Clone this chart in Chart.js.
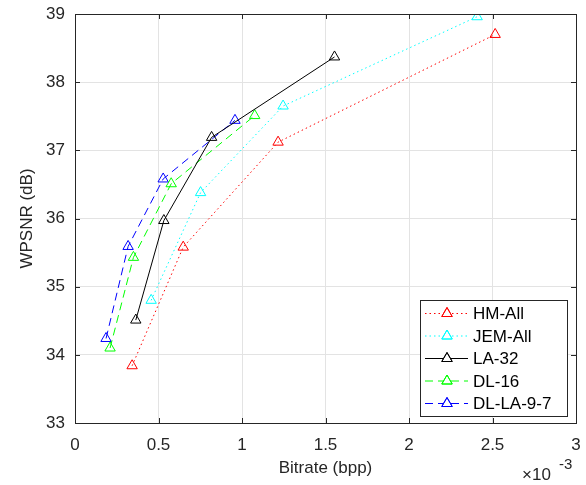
<!DOCTYPE html>
<html>
<head>
<meta charset="utf-8">
<script src="https://cdn.jsdelivr.net/npm/chart.js@4.4.0/dist/chart.umd.min.js"></script>
<style>
  html, body { margin: 0; padding: 0; background: #fff; }
  #wrap { width: 586px; height: 485px; }
</style>
</head>
<body>
<div id="wrap"><canvas id="chart" width="586" height="485"></canvas></div>
<script>
// bitrate in units of 1e-3 bpp, WPSNR in dB
const hmX = [0.342, 0.648, 1.216, 2.516];
const hmY = [33.84, 35.58, 37.12, 38.70];
const jemX = [0.456, 0.752, 1.246, 2.408];
const jemY = [34.80, 36.38, 37.65, 38.96];
const laX = [0.364, 0.532, 0.818, 1.554];
const laY = [34.51, 35.97, 37.19, 38.37];
const dlX = [0.210, 0.350, 0.576, 1.076];
const dlY = [34.10, 35.43, 36.51, 37.51];
const dllaX = [0.186, 0.318, 0.528, 0.958];
const dllaY = [34.24, 35.59, 36.58, 37.44];

const xTicks = [0, 0.5, 1, 1.5, 2, 2.5, 3];
const yTicks = [33, 34, 35, 36, 37, 38, 39];

const FONT = '"Liberation Sans", Arial, Helvetica, sans-serif';
const AX = '#262626';

const pts = (xs, ys) => xs.map((x, i) => ({ x: x, y: ys[i] }));

const series = (label, xs, ys, color, dash) => ({
  label: label,
  data: pts(xs, ys),
  borderColor: color,
  backgroundColor: 'rgba(0,0,0,0)',
  borderWidth: 1,
  borderDash: dash,
  pointStyle: 'triangle',
  pointRadius: 6,
  pointBorderWidth: 1,
  pointBorderColor: color,
  pointBackgroundColor: 'rgba(0,0,0,0)',
  tension: 0,
  showLine: true,
});

// box, inward ticks, legend and the x10^-3 exponent
const matlabAxes = {
  id: 'matlabAxes',
  afterDatasetsDraw(chart) {
    const { ctx, chartArea: a, scales } = chart;
    ctx.save();
    ctx.strokeStyle = AX;
    ctx.lineWidth = 1;
    ctx.setLineDash([]);
    ctx.strokeRect(Math.round(a.left) + 0.5, Math.round(a.top) + 0.5,
      Math.round(a.right - a.left), Math.round(a.bottom - a.top));
    ctx.beginPath();
    xTicks.forEach(v => {
      const px = Math.round(scales.x.getPixelForValue(v)) + 0.5;
      ctx.moveTo(px, a.bottom); ctx.lineTo(px, a.bottom - 5);
      ctx.moveTo(px, a.top); ctx.lineTo(px, a.top + 5);
    });
    yTicks.forEach(v => {
      const py = Math.round(scales.y.getPixelForValue(v)) + 0.5;
      ctx.moveTo(a.left, py); ctx.lineTo(a.left + 5, py);
      ctx.moveTo(a.right, py); ctx.lineTo(a.right - 5, py);
    });
    ctx.stroke();

    // legend
    const bx = a.right - 156, by = a.bottom - 123, bw = 147, bh = 116;
    ctx.fillStyle = '#fff';
    ctx.fillRect(bx, by, bw, bh);
    ctx.strokeStyle = AX;
    ctx.strokeRect(Math.round(bx) + 0.5, Math.round(by) + 0.5, bw, bh);
    ctx.font = '17px ' + FONT;
    ctx.textBaseline = 'middle';
    ctx.textAlign = 'left';
    chart.data.datasets.forEach((ds, i) => {
      const y = by + 13.5 + i * 22.5;
      ctx.strokeStyle = ds.borderColor;
      ctx.setLineDash(ds.borderDash || []);
      ctx.beginPath();
      ctx.moveTo(bx + 5, y); ctx.lineTo(bx + 48, y);
      ctx.stroke();
      ctx.setLineDash([]);
      ctx.fillStyle = '#fff';
      Chart.helpers.drawPoint(ctx, { pointStyle: 'triangle', radius: 6, borderWidth: 1 }, bx + 27, y);
      ctx.stroke();
      ctx.fillStyle = '#000';
      ctx.fillText(ds.label, bx + 53, y + 1);
    });

    // exponent
    ctx.fillStyle = AX;
    ctx.textAlign = 'left';
    ctx.font = '17px ' + FONT;
    ctx.fillText('\u00d710', a.right - 54, a.bottom + 52);
    ctx.font = '15px ' + FONT;
    ctx.fillText('-3', a.right - 17, a.bottom + 42);
    ctx.restore();
  }
};

new Chart(document.getElementById('chart').getContext('2d'), {
  type: 'scatter',
  data: {
    datasets: [
      series('HM-All', hmX, hmY, '#ff0000', [1.5, 3]),
      series('JEM-All', jemX, jemY, '#00ffff', [1.5, 3]),
      series('LA-32', laX, laY, '#000000', []),
      series('DL-16', dlX, dlY, '#00ff00', [8, 5]),
      series('DL-LA-9-7', dllaX, dllaY, '#0000ff', [8, 5]),
    ],
  },
  options: {
    responsive: false,
    animation: false,
    layout: { padding: { top: 14, right: 10, left: 0, bottom: 0 } },
    plugins: {
      legend: { display: false },
      tooltip: { enabled: false },
    },
    scales: {
      x: {
        type: 'linear',
        min: 0,
        max: 3,
        afterBuildTicks: s => { s.ticks = xTicks.map(v => ({ value: v })); },
        afterFit: s => { s.height = 62; s.paddingLeft = 0; s.paddingRight = 0; },
        ticks: { color: AX, font: { family: FONT, size: 17 }, padding: 12, maxRotation: 0, callback: v => String(v) },
        grid: { color: '#e3e3e3', drawTicks: false },
        border: { display: false },
        title: { display: true, text: 'Bitrate (bpp)', color: AX, font: { family: FONT, size: 17 }, padding: { top: 0, bottom: 6 } },
      },
      y: {
        type: 'linear',
        min: 33,
        max: 39,
        afterBuildTicks: s => { s.ticks = yTicks.map(v => ({ value: v })); },
        afterFit: s => { s.width = 75; s.paddingTop = 0; s.paddingBottom = 0; },
        ticks: { color: AX, font: { family: FONT, size: 17 }, padding: 10, callback: v => String(v) },
        grid: { color: '#e3e3e3', drawTicks: false },
        border: { display: false },
        title: { display: true, text: 'WPSNR (dB)', color: AX, font: { family: FONT, size: 17 }, padding: { top: 17, bottom: 0 } },
      },
    },
  },
  plugins: [matlabAxes],
});
</script>
</body>
</html>
